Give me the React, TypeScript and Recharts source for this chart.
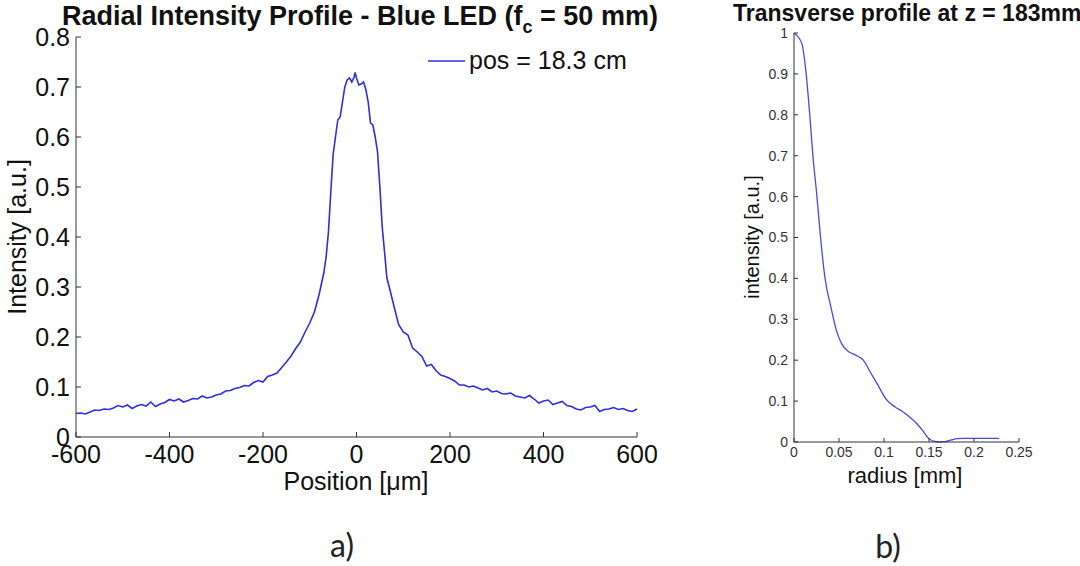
import { LineChart, Line, XAxis, YAxis } from "recharts";

// a) radial profile, position in µm
const POSITION_UM = [
  -600, -590, -580, -570, -560, -550, -540, -530, -520, -510, -500, -490, -480, -470, -460, -450,
  -440, -430, -420, -410, -400, -390, -380, -370, -360, -350, -340, -330, -320, -310, -300, -290,
  -280, -270, -260, -250, -240, -230, -220, -210, -200, -190, -180, -170, -160, -150, -140, -130,
  -120, -110, -100, -90, -80, -70, -65, -60, -55, -50, -45, -40, -35, -30, -25, -20, -15, -10, -5,
  -3, 0, 5, 10, 15, 20, 25, 30, 35, 40, 45, 50, 55, 60, 65, 70, 80, 90, 100, 110, 120, 130, 140,
  150, 160, 170, 180, 190, 200, 210, 220, 230, 240, 250, 260, 270, 280, 290, 300, 310, 320, 330,
  340, 350, 360, 370, 380, 390, 400, 410, 420, 430, 440, 450, 460, 470, 480, 490, 500, 510, 520,
  530, 540, 550, 560, 570, 580, 590, 600,
];
const INTENSITY_A = [
  0.047, 0.048, 0.046, 0.05, 0.054, 0.053, 0.056, 0.055, 0.058, 0.063, 0.06, 0.064, 0.057, 0.062, 0.065, 0.062,
  0.07, 0.061, 0.066, 0.069, 0.075, 0.072, 0.076, 0.07, 0.073, 0.077, 0.076, 0.082, 0.078, 0.08, 0.084, 0.086,
  0.092, 0.093, 0.097, 0.099, 0.103, 0.102, 0.109, 0.113, 0.11, 0.121, 0.124, 0.128, 0.139, 0.15, 0.162, 0.177,
  0.19, 0.21, 0.228, 0.25, 0.285, 0.328, 0.36, 0.41, 0.49, 0.565, 0.6, 0.634, 0.64, 0.67, 0.7, 0.714, 0.718, 0.71, 0.72,
  0.729, 0.718, 0.704, 0.706, 0.71, 0.695, 0.67, 0.628, 0.624, 0.6, 0.57, 0.5, 0.42, 0.37, 0.318, 0.3, 0.262, 0.225, 0.21, 0.204, 0.178, 0.17, 0.161,
  0.142, 0.145, 0.133, 0.124, 0.121, 0.117, 0.112, 0.104, 0.104, 0.1, 0.102, 0.098, 0.094, 0.097, 0.09, 0.092, 0.087, 0.086, 0.088,
  0.082, 0.08, 0.078, 0.083, 0.076, 0.068, 0.072, 0.074, 0.065, 0.068, 0.071, 0.063, 0.061, 0.056, 0.054, 0.059, 0.06, 0.063, 0.051,
  0.055, 0.056, 0.059, 0.055, 0.057, 0.053, 0.051, 0.056,
];
const POSITION_TICKS = [-600, -400, -200, 0, 200, 400, 600];
const INTENSITY_A_TICKS = [0, 0.1, 0.2, 0.3, 0.4, 0.5, 0.6, 0.7, 0.8];

// b) transverse profile, radius in mm
const RADIUS_MM = [
  0, 0.004, 0.009, 0.0135, 0.0175, 0.021, 0.0255, 0.0295, 0.0345, 0.041, 0.0475, 0.053, 0.06, 0.068, 0.077, 0.085,
  0.092, 0.103, 0.112, 0.121, 0.13, 0.136, 0.143, 0.149, 0.155, 0.162, 0.168, 0.175, 0.181, 0.19, 0.2, 0.21,
  0.22, 0.228,
];
const INTENSITY_B = [
  1.0, 0.992, 0.972, 0.9, 0.8, 0.7, 0.6, 0.5, 0.4, 0.33, 0.27, 0.24, 0.222, 0.213, 0.2, 0.17,
  0.144, 0.103, 0.086, 0.074, 0.058, 0.046, 0.028, 0.01, 0.002, 0.0, 0.001, 0.005, 0.008, 0.009, 0.009, 0.009,
  0.009, 0.009,
];
const RADIUS_TICKS = [0, 0.05, 0.1, 0.15, 0.2, 0.25];
const INTENSITY_B_TICKS = [0, 0.1, 0.2, 0.3, 0.4, 0.5, 0.6, 0.7, 0.8, 0.9, 1];

const FONT = "'Liberation Sans', Arial, Helvetica, sans-serif";
const FRAME = "#333";

const dataA = POSITION_UM.map((x, i) => ({ x, y: INTENSITY_A[i] }));
const dataB = RADIUS_MM.map((x, i) => ({ x, y: INTENSITY_B[i] }));
const fmt = (v: number) => String(v);
const blank = () => "";

export default function App() {
  const tickA = { fontSize: 25, fill: "#111", fontFamily: FONT };
  const tickB = { fontSize: 14, fill: "#333", fontFamily: FONT };
  return (
    <div style={{ position: "absolute", left: 0, top: 0, width: 1080, height: 566, background: "#fff" }}>
      <div style={{ position: "absolute", left: 0, top: 0 }}>
        <LineChart width={660} height={500} data={dataA} margin={{ top: 37, right: 23, bottom: 33, left: 0 }}>
          <XAxis xAxisId="b" type="number" dataKey="x" domain={[-600, 600]} ticks={POSITION_TICKS} interval={0}
            tickFormatter={fmt} height={30} tickSize={-5} tickMargin={13} stroke={FRAME} tick={tickA} allowDataOverflow />
          <XAxis xAxisId="t" orientation="top" type="number" dataKey="x" domain={[-600, 600]} ticks={POSITION_TICKS}
            interval={0} height={0} tickSize={-5} tickFormatter={blank} stroke={FRAME} />
          <YAxis yAxisId="l" type="number" domain={[0, 0.8]} ticks={INTENSITY_A_TICKS} interval={0} width={76}
            tickFormatter={fmt} tickSize={-5} tickMargin={11} stroke={FRAME} tick={tickA} />
          <YAxis yAxisId="r" orientation="right" type="number" domain={[0, 0.8]} ticks={INTENSITY_A_TICKS}
            interval={0} width={0} tickSize={-5} tickFormatter={blank} stroke={FRAME} />
          <Line xAxisId="b" yAxisId="l" type="linear" dataKey="y" stroke="#2f2fe0" strokeWidth={1.6}
            dot={false} isAnimationActive={false} />
        </LineChart>
      </div>
      <div style={{ position: "absolute", left: 700, top: 0 }}>
        <LineChart width={380} height={500} data={dataB} margin={{ top: 33, right: 61, bottom: 33, left: 0 }}>
          <XAxis xAxisId="b" type="number" dataKey="x" domain={[0, 0.25]} ticks={RADIUS_TICKS} interval={0}
            tickFormatter={fmt} height={25} tickSize={-4} tickMargin={9} stroke={FRAME} tick={tickB} />
          <XAxis xAxisId="t" orientation="top" type="number" dataKey="x" domain={[0, 0.25]} ticks={RADIUS_TICKS}
            interval={0} height={0} tickSize={-4} tickFormatter={blank} stroke={FRAME} />
          <YAxis yAxisId="l" type="number" domain={[0, 1]} ticks={INTENSITY_B_TICKS} interval={0} width={94}
            tickFormatter={fmt} tickSize={-4} tickMargin={10} stroke={FRAME} tick={tickB} />
          <YAxis yAxisId="r" orientation="right" type="number" domain={[0, 1]} ticks={INTENSITY_B_TICKS}
            interval={0} width={0} tickSize={-4} tickFormatter={blank} stroke={FRAME} />
          <Line xAxisId="b" yAxisId="l" type="monotone" dataKey="y" stroke="#4a4ae0" strokeWidth={1.3}
            dot={false} isAnimationActive={false} />
        </LineChart>
      </div>
      <svg width={1080} height={566} style={{ position: "absolute", left: 0, top: 0, pointerEvents: "none" }}
        fontFamily={FONT} fill="#111">
        <text x={62} y={25} fontSize={27} fontWeight="bold">
          Radial Intensity Profile - Blue LED (f<tspan fontSize={18} dy={8}>c</tspan>
          <tspan dy={-8}> = 50 mm)</tspan>
        </text>
        <text x={356} y={490} fontSize={25} textAnchor="middle">Position [μm]</text>
        <text transform="translate(26,237) rotate(-90)" fontSize={25} textAnchor="middle">Intensity [a.u.]</text>
        <line x1={428} x2={465} y1={61} y2={61} stroke="#2f2fe0" strokeWidth={1.6} />
        <text x={469} y={69} fontSize={25}>pos = 18.3 cm</text>

        <text x={733} y={21} fontSize={23} fontWeight="bold">Transverse profile at z = 183mm</text>
        <text transform="translate(759,237) rotate(-90)" fontSize={20} textAnchor="middle">intensity [a.u.]</text>
        <text x={905} y={483} fontSize={22} textAnchor="middle">radius [mm]</text>

        <text x={342} y={557} fontSize={32} textAnchor="middle" fontFamily="Lato, 'Open Sans', sans-serif" fill="#222">a)</text>
        <text x={888} y={558} fontSize={32} textAnchor="middle" fontFamily="Lato, 'Open Sans', sans-serif" fill="#222">b)</text>
      </svg>
    </div>
  );
}
